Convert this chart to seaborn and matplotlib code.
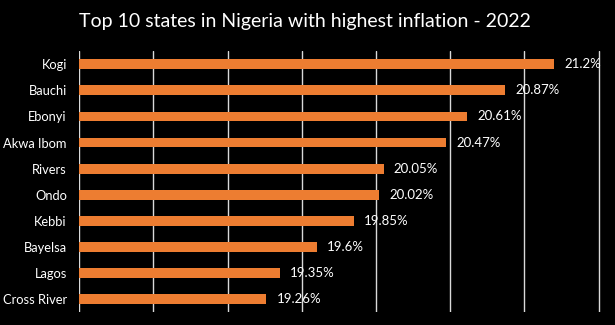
import matplotlib
matplotlib.use("Agg")
import matplotlib.pyplot as plt
import seaborn as sns
import pandas as pd

states = ["Kogi", "Bauchi", "Ebonyi", "Akwa Ibom", "Rivers",
          "Ondo", "Kebbi", "Bayelsa", "Lagos", "Cross River"]
inflation = [21.2, 20.87, 20.61, 20.47, 20.05, 20.02, 19.85, 19.6, 19.35, 19.26]
title = "Top 10 states in Nigeria with highest inflation - 2022"

df = pd.DataFrame({"state": states, "inflation": inflation})

sns.set_theme(style="white")
plt.rcParams["font.family"] = ["Lato", "DejaVu Sans"]

fig = plt.figure(figsize=(6.15, 3.25), dpi=100, facecolor="black")
ax = fig.add_axes([79.3 / 615, 1 - 312 / 325, 1 - 79.3 / 615, (312 - 51.3) / 325])
ax.set_facecolor("black")

sns.barplot(data=df, x="inflation", y="state", orient="h", color="#ED7D31",
            saturation=1, width=0.38, linewidth=0, ax=ax, zorder=3)

ax.set_xlim(18, 21.61)
ax.set_ylim(9.5, -0.5)
ax.set_xticks([18, 18.5, 19, 19.5, 20, 20.5, 21, 21.5])
ax.xaxis.grid(True, color="#D9D9D9", linewidth=1.0, zorder=0)
ax.yaxis.grid(False)
ax.tick_params(axis="x", length=0, labelbottom=False)
ax.tick_params(axis="y", length=0, pad=9, labelsize=9.3, labelcolor="white")
ax.set_xlabel("")
ax.set_ylabel("")
for s in ax.spines.values():
    s.set_visible(False)

for i, v in enumerate(inflation):
    ax.annotate(f"{v:g}%", xy=(v, i), xytext=(7.5, 0), textcoords="offset points",
                ha="left", va="center", color="white", fontsize=9.5)

fig.text(304.5 / 615, 1 - 21 / 325, title, ha="center", va="center",
         color="white", fontsize=14)

fig.savefig("out.png", dpi=100, facecolor="black")
